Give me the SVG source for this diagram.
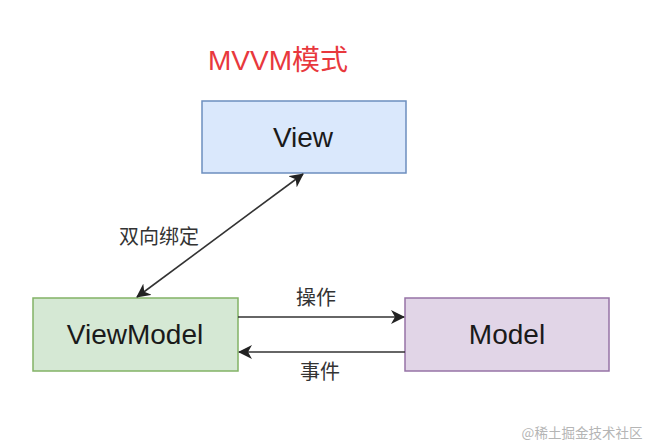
<svg xmlns="http://www.w3.org/2000/svg" width="647" height="445" viewBox="0 0 647 445">
<defs>
<marker id="arr" viewBox="0 0 14 14" refX="13" refY="7" markerWidth="14" markerHeight="14" markerUnits="userSpaceOnUse" orient="auto-start-reverse">
<path d="M0,0 L14,7 L0,14 L4,7 Z" fill="#222"/>
</marker>
<style>
.node{stroke-width:1.5}
.lbl{font-family:"Liberation Sans",Arial,sans-serif;font-size:28px;fill:#1a1a1a;text-anchor:middle}
.cn{font-family:"Noto Sans CJK SC",sans-serif;font-size:20px;fill:#333;text-anchor:middle}
.edge{stroke:#333;stroke-width:1.6;fill:none}
</style>
</defs>
<rect width="647" height="445" fill="#fff"/>
<text x="278" y="70" font-family="'Liberation Sans','Noto Sans CJK SC',sans-serif" font-size="28" fill="#e8383d" text-anchor="middle">MVVM模式</text>
<g id="view">
<rect class="node" x="202" y="101" width="204" height="72" fill="#dae8fc" stroke="#6c8ebf"/>
<text class="lbl" x="303" y="147">View</text>
</g>
<g id="viewmodel">
<rect class="node" x="33" y="298" width="205" height="73" fill="#d5e8d4" stroke="#82b366"/>
<text class="lbl" x="135" y="344">ViewModel</text>
</g>
<g id="model">
<rect class="node" x="405" y="298" width="204" height="73" fill="#e1d5e7" stroke="#9673a6"/>
<text class="lbl" x="507" y="344">Model</text>
</g>
<g id="connectors">
<line class="edge" x1="137" y1="297" x2="303" y2="174" marker-start="url(#arr)" marker-end="url(#arr)"/>
<text class="cn" x="159" y="244">双向绑定</text>
<line class="edge" x1="238" y1="317" x2="404" y2="317" marker-end="url(#arr)"/>
<text class="cn" x="316" y="305">操作</text>
<line class="edge" x1="405" y1="352" x2="239" y2="352" marker-end="url(#arr)"/>
<text class="cn" x="320" y="379">事件</text>
</g>
<text x="582" y="438" font-family="'Noto Sans CJK SC',sans-serif" font-size="13.5" fill="#b5b5b5" text-anchor="middle">@稀土掘金技术社区</text>
</svg>
